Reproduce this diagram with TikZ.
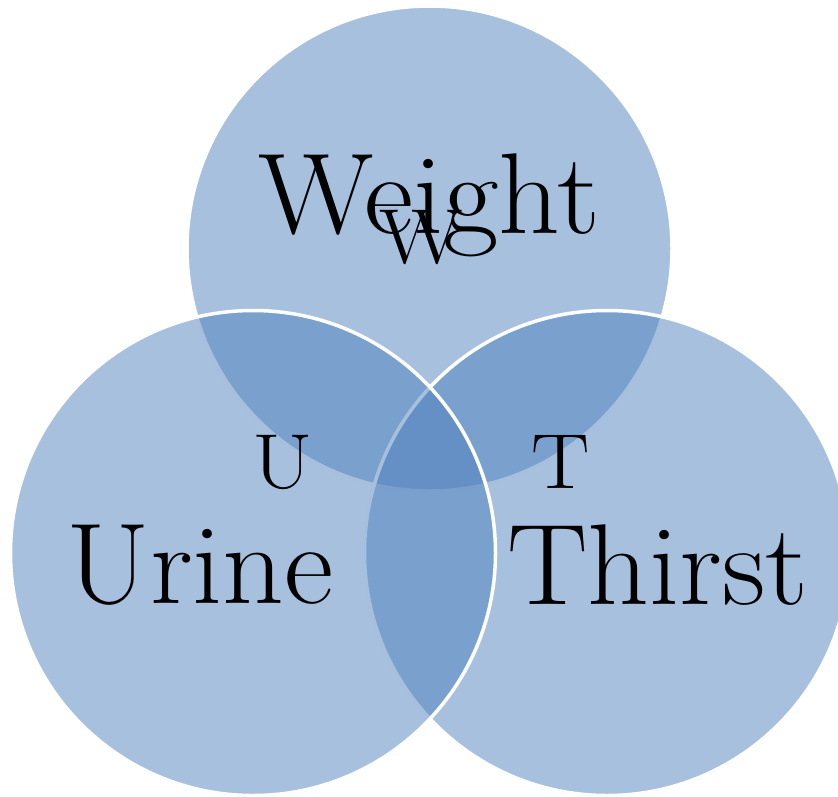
\documentclass[tikz,border=0pt]{standalone}
\begin{document}
\begin{tikzpicture}[x=1pt,y=-1pt,
  venn/.style={circle,minimum size=485pt,inner sep=0pt,fill=vennblue,fill opacity=0.5,draw=white,draw opacity=1,line width=3.5pt},
  bigtxt/.style={anchor=base,inner sep=0pt,xscale=1.05,font=\fontsize{115}{128}\selectfont},
  smalltxt/.style={anchor=base,inner sep=0pt,xscale=1.12,font=\fontsize{78}{90}\selectfont}]
\definecolor{vennblue}{HTML}{4F81BD}
\useasboundingbox (0,0) rectangle (838,796);
\clip (0,0) rectangle (838,796);
\node[venn] (cW) at (429.5,248.5) {};
\node[venn] (cT) at (607,553) {};
\node[venn] (cU) at (253,553) {};
\node[bigtxt] (tW) at (429,233) {Weight};
\node[smalltxt] (sW) at (421,263) {W};
\node[bigtxt] (tU) at (200,603) {Urine};
\node[smalltxt] (sU) at (283,488) {U};
\node[bigtxt] (tT) at (658,604) {Thirst};
\node[smalltxt] (sT) at (561,488) {T};
\end{tikzpicture}
\end{document}
